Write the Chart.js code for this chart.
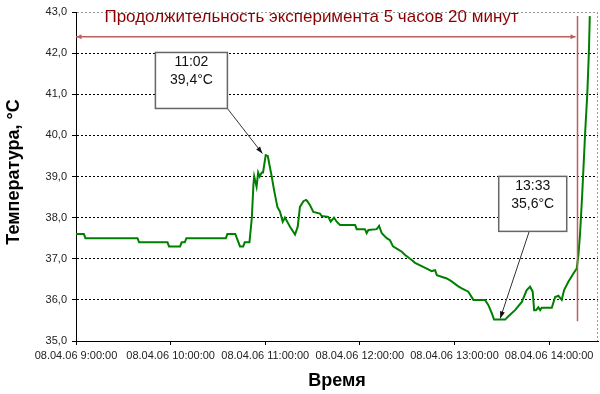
<!DOCTYPE html>
<html>
<head>
<meta charset="utf-8">
<script src="https://cdn.jsdelivr.net/npm/chart.js@4.4.1/dist/chart.umd.min.js"></script>
<style>
  body { margin: 0; background: #fff; }
  canvas { display: block; }
</style>
</head>
<body>
<canvas id="chart" width="600" height="394"></canvas>
<script>
// minutes since 08.04.06 9:00:00
const minutesFrom9 = [
  0, 5, 6, 39, 40, 58, 59, 66, 67, 69, 70, 95, 96, 101, 102, 104, 106, 107, 110,
  111.5, 112.5, 113, 114.5, 115.5, 116.5, 117.8, 118.6, 120.3, 121.6, 124.1, 125.6,
  127.7, 129.4, 131.1, 132.5, 135.7, 138.9, 140.6, 142, 144.2, 145.9, 146.7, 148.4,
  150.5, 154.7, 155.8, 160, 161.5, 163.6, 165.3, 167.4, 177, 178, 183.2, 184.3, 185.4,
  190.7, 192.2, 193.9, 197, 199.1, 201, 204.4, 206.6, 208.7, 212.9, 215, 222.4, 225.5,
  227.7, 228.8, 235.1, 238.2, 242.4, 244.6, 248.8, 252, 259.4, 261.5, 263.7, 265.1,
  272.1, 274.2, 278.4, 282.7, 285.8, 287.9, 289.6, 290.5, 291.7, 293.2, 294.3, 295.3,
  301.7, 303.8, 305.9, 308, 309.5, 312.2, 315.4, 317.5, 318.6, 319.6, 320.9, 321.9,
  322.9, 324.2, 325.2, 325.8
];
const temperature = [
  37.6, 37.6, 37.5, 37.5, 37.4, 37.4, 37.3, 37.3, 37.4, 37.4, 37.5, 37.5, 37.6, 37.6, 37.5, 37.3, 37.3, 37.4, 37.4,
  38.0, 38.8, 39.0, 38.75, 39.1, 39.0, 39.1, 39.1, 39.52, 39.5, 39.0, 38.67,
  38.26, 38.14, 37.9, 38.0, 37.78, 37.59, 37.78, 38.26, 38.4, 38.43, 38.4, 38.3,
  38.14, 38.1, 38.04, 38.02, 37.9, 38.0, 37.9, 37.82, 37.82, 37.72, 37.72, 37.62, 37.7,
  37.72, 37.8, 37.62, 37.5, 37.45, 37.3, 37.22, 37.17, 37.09, 36.97, 36.9, 36.76, 36.7,
  36.72, 36.6, 36.52, 36.45, 36.33, 36.28, 36.2, 36.0, 36.0, 35.87, 35.67, 35.52,
  35.52, 35.6, 35.75, 35.95, 36.24, 36.32, 36.2, 35.75, 35.75, 35.82, 35.75, 35.81,
  35.81, 36.07, 36.1, 36.0, 36.24, 36.44, 36.64, 36.76, 37.1, 37.6, 38.5, 39.3,
  40.1, 41.0, 42.0, 42.9
];

const hourTickMinutes = [0, 60, 120, 180, 240, 300];
const hourTickLabels = ['08.04.06 9:00:00', '08.04.06 10:00:00', '08.04.06 11:00:00',
  '08.04.06 12:00:00', '08.04.06 13:00:00', '08.04.06 14:00:00'];

const titleText = 'Продолжительность эксперимента 5 часов 20 минут';
const experimentEnd = 318; // minutes, vertical marker

// callouts: arrow tip in data space, box offset from tip in pixels
const callouts = [
  { x: 118.2, y: 39.56, lines: ['11:02', '39,4°C'], dx: -107, dy: -101, w: 72, h: 56, ax: 72 },
  { x: 269, y: 35.55, lines: ['13:33', '35,6°C'], dx: -1.5, dy: -142, w: 68, h: 55, ax: 30.5 }
];

const FONT = "'Liberation Sans', Arial, sans-serif";

function arrowHead(ctx, x1, y1, x2, y2, len, half) {
  const a = Math.atan2(y2 - y1, x2 - x1);
  ctx.beginPath();
  ctx.moveTo(x2, y2);
  ctx.lineTo(x2 - len * Math.cos(a) + half * Math.sin(a), y2 - len * Math.sin(a) - half * Math.cos(a));
  ctx.lineTo(x2 - len * Math.cos(a) - half * Math.sin(a), y2 - len * Math.sin(a) + half * Math.cos(a));
  ctx.closePath();
  ctx.fill();
}

const decorations = {
  id: 'decorations',
  afterDatasetsDraw(chart) {
    const { ctx, chartArea, scales } = chart;
    const xs = scales.x, ys = scales.y;
    ctx.save();

    // right dotted border
    ctx.strokeStyle = '#999';
    ctx.lineWidth = 1;
    ctx.setLineDash([2, 2]);
    ctx.beginPath();
    ctx.moveTo(chartArea.right - 0.5, chartArea.top);
    ctx.lineTo(chartArea.right - 0.5, chartArea.bottom);
    ctx.stroke();
    ctx.setLineDash([]);

    // experiment duration: vertical marker + double arrow
    const red = 'rgb(190, 95, 95)';
    const xEnd = xs.getPixelForValue(experimentEnd);
    ctx.strokeStyle = red;
    ctx.fillStyle = red;
    ctx.lineWidth = 1.5;
    ctx.beginPath();
    ctx.moveTo(xEnd, ys.getPixelForValue(42.9));
    ctx.lineTo(xEnd, ys.getPixelForValue(35.48));
    ctx.stroke();

    const yArrow = ys.getPixelForValue(42.4);
    const x0 = xs.getPixelForValue(0);
    ctx.beginPath();
    ctx.moveTo(x0, yArrow);
    ctx.lineTo(xEnd - 2, yArrow);
    ctx.stroke();
    arrowHead(ctx, xEnd, yArrow, x0 + 0.5, yArrow, 5, 2.5);
    arrowHead(ctx, x0, yArrow, xEnd - 2, yArrow, 5, 2.5);

    ctx.fillStyle = '#8b0000';
    ctx.font = '17px ' + FONT;
    ctx.textAlign = 'center';
    ctx.textBaseline = 'middle';
    ctx.fillText(titleText, 311.5, ys.getPixelForValue(42.88));

    // callouts
    callouts.forEach(c => {
      const tx = xs.getPixelForValue(c.x);
      const ty = ys.getPixelForValue(c.y);
      const bx = tx + c.dx, by = ty + c.dy;
      const sx = bx + c.ax, sy = by + c.h;
      ctx.strokeStyle = '#333';
      ctx.fillStyle = '#111';
      ctx.lineWidth = 1;
      ctx.beginPath();
      ctx.moveTo(sx, sy);
      ctx.lineTo(tx, ty);
      ctx.stroke();
      arrowHead(ctx, sx, sy, tx, ty, 7, 2.5);

      ctx.fillStyle = '#fff';
      ctx.fillRect(bx, by, c.w, c.h);
      ctx.strokeStyle = '#666';
      ctx.lineWidth = 1.5;
      ctx.strokeRect(bx, by, c.w, c.h);

      ctx.fillStyle = '#111';
      ctx.font = '14px ' + FONT;
      ctx.textAlign = 'center';
      ctx.textBaseline = 'middle';
      ctx.fillText(c.lines[0], bx + c.w / 2, by + 10);
      ctx.fillText(c.lines[1], bx + c.w / 2, by + 27.5);
    });

    // axis titles
    ctx.fillStyle = '#000';
    ctx.font = 'bold 18px ' + FONT;
    ctx.textAlign = 'center';
    ctx.textBaseline = 'middle';
    ctx.fillText('Время', (chartArea.left + chartArea.right) / 2, 381);
    ctx.translate(14, 172);
    ctx.rotate(-Math.PI / 2);
    ctx.fillText('Температура, °C', 0, 0);

    ctx.restore();
  }
};

const ctx = document.getElementById('chart').getContext('2d');
new Chart(ctx, {
  type: 'line',
  data: {
    datasets: [{
      data: minutesFrom9.map((m, i) => ({ x: m, y: temperature[i] })),
      borderColor: '#008000',
      borderWidth: 2,
      pointRadius: 0,
      tension: 0,
      fill: false
    }]
  },
  options: {
    responsive: false,
    animation: false,
    layout: { padding: { top: 12, right: 2, left: 0, bottom: 0 } },
    plugins: { legend: { display: false }, tooltip: { enabled: false } },
    scales: {
      x: {
        type: 'linear',
        min: 0,
        max: 331,
        afterBuildTicks: s => { s.ticks = hourTickMinutes.map(v => ({ value: v })); },
        afterFit: s => { s.height = 53; },
        ticks: {
          autoSkip: false,
          maxRotation: 0,
          padding: 4,
          color: '#222',
          font: { family: FONT, size: 11 },
          callback: (v, i) => hourTickLabels[i]
        },
        grid: { drawOnChartArea: false, tickLength: 4, color: '#000' },
        border: { color: '#000', width: 1 }
      },
      y: {
        min: 35,
        max: 43,
        afterFit: s => { s.width = 76; },
        ticks: {
          stepSize: 1,
          padding: 5,
          color: '#222',
          font: { family: FONT, size: 11 },
          callback: v => v.toFixed(1).replace('.', ',')
        },
        grid: {
          color: c => (c.tick && c.tick.value === 43) ? '#999' : '#000',
          tickColor: '#000',
          tickLength: 4,
          tickBorderDash: []
        },
        border: { color: '#000', width: 1, dash: [2, 2] }
      }
    }
  },
  plugins: [decorations]
});
</script>
</body>
</html>
